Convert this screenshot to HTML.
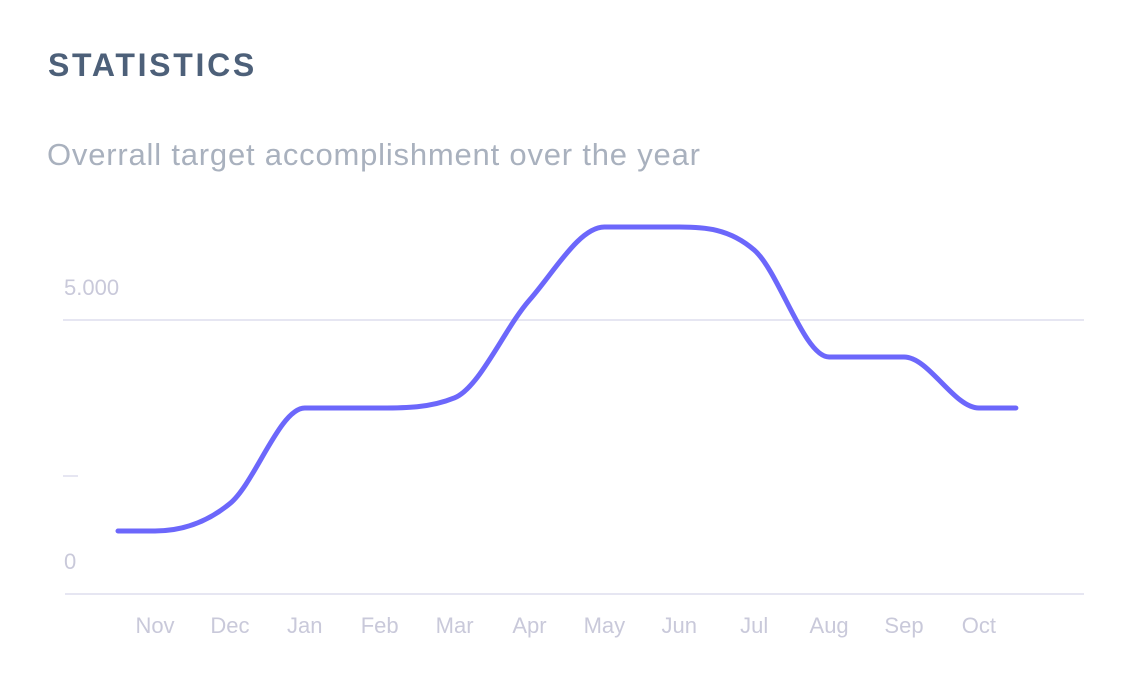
<!DOCTYPE html>
<html><head><meta charset="utf-8"><style>
body{margin:0;background:#fff;width:1135px;height:691px;overflow:hidden;font-family:"Liberation Sans",sans-serif}
#title{position:absolute;left:48px;top:47px;font-size:32px;letter-spacing:2.7px;color:#4d6079;font-weight:bold}
#sub{position:absolute;left:47px;top:137px;font-size:31px;letter-spacing:0.8px;color:#a9b1be}
svg{position:absolute;left:0;top:0}
</style></head><body>
<div id="title">STATISTICS</div>
<div id="sub">Overrall target accomplishment over the year</div>
<svg id="c" width="1135" height="691"></svg>
<script>
const months=["Nov","Dec","Jan","Feb","Mar","Apr","May","Jun","Jul","Aug","Sep","Oct"];
const values=[1150,1650,3394,3394,3580,5365,6697,6697,6277,4325,4325,3394];
const yTicks=[0,5000];
const yTickLabels=["0","5.000"];
const NS="http://www.w3.org/2000/svg";
const svg=document.getElementById('c');
const x0=155,step=74.9;
function xs(i){return x0+i*step;}
function ys(v){return 594-v*0.0548;}
function mk(t,a){const e=document.createElementNS(NS,t);for(const k in a)e.setAttribute(k,a[k]);svg.appendChild(e);return e;}
let g=mk('line',{x1:65,x2:1084,y1:594,y2:594,stroke:'#e6e6f2','stroke-width':2});


yTicks.forEach((t,i)=>{
  if(t>0){const l=mk('line',{x1:63,x2:1084,y1:ys(t),y2:ys(t),stroke:'#e6e6f2','stroke-width':2});
  
  }
  const tx=mk('text',{x:64,y:ys(t)-25,'font-size':22,fill:'#c9c9da','font-family':'Liberation Sans, sans-serif'});
  tx.textContent=yTickLabels[i];
  
  
});
const mt=mk('line',{x1:63,x2:78,y1:476,y2:476,stroke:'#e6e6f2','stroke-width':2});


months.forEach((m,i)=>{
  const t=mk('text',{x:xs(i),y:633,'font-size':22,fill:'#c9c9da','text-anchor':'middle','font-family':'Liberation Sans, sans-serif'});
  t.textContent=m;
  
  
});
const px=[xs(0)-37,...values.map((v,i)=>xs(i)),xs(values.length-1)+37];
const py=[ys(values[0]),...values.map(ys),ys(values[values.length-1])];
const n=px.length,d=[],m=[];
for(let i=0;i<n-1;i++)d.push((py[i+1]-py[i])/(px[i+1]-px[i]));
for(let i=0;i<n;i++){
  if(i==0||i==n-1||d[i-1]*d[i]<=0){m.push(0);continue;}
  let s=(py[i+1]-py[i-1])/(px[i+1]-px[i-1]);
  const lim=3*Math.min(Math.abs(d[i-1]),Math.abs(d[i]));
  if(Math.abs(s)>lim)s=Math.sign(s)*lim;
  m.push(s);
}
let p=`M${px[0]},${py[0]}`;
for(let i=0;i<n-1;i++){const h=(px[i+1]-px[i])/3;
  p+=` C${px[i]+h},${py[i]+m[i]*h} ${px[i+1]-h},${py[i+1]-m[i+1]*h} ${px[i+1]},${py[i+1]}`;}
const path=mk('path',{d:p,fill:'none',stroke:'#6c67fb','stroke-width':5,'stroke-linecap':'round'});


</script>
</body></html>
